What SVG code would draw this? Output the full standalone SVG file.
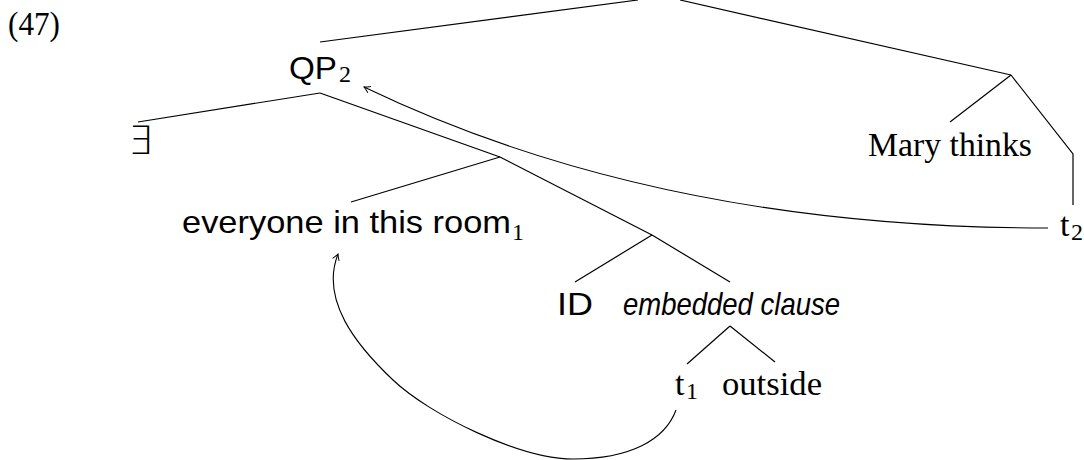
<svg xmlns="http://www.w3.org/2000/svg" width="1084" height="460" viewBox="0 0 1084 460">
<style>
.serif{font-family:"Liberation Serif","Times New Roman",serif;font-size:34px;fill:#000}
.sans{font-family:"Liberation Sans",Arial,sans-serif;font-size:32px;fill:#000}
.sub{font-family:"Liberation Serif","Times New Roman",serif;font-size:24px;fill:#000}
.edge{stroke:#000;stroke-width:1.2;fill:none}
.move{stroke:#000;stroke-width:1.1;fill:none;marker-end:url(#arr)}
</style>
<defs>
<marker id="arr" markerWidth="12" markerHeight="12" refX="0" refY="0" viewBox="-8 -6 12 12" orient="auto" markerUnits="userSpaceOnUse">
<path d="M -6 -3.5 Q -2 -0.8 0 0 Q -2 0.8 -6 3.5" fill="none" stroke="#000" stroke-width="1"/>
</marker>
</defs>
<rect width="1084" height="460" fill="#fff"/>
<g id="label47"><text class="serif" x="8" y="35" font-size="36" textLength="52" lengthAdjust="spacingAndGlyphs">(47)</text></g>
<g id="connectors">
<line class="edge" x1="320" y1="42" x2="638" y2="0"/>
<line class="edge" x1="680" y1="0" x2="1011" y2="75"/>
<line class="edge" x1="1011" y1="75" x2="950" y2="122"/>
<polyline class="edge" points="1011,75 1073,154 1073,205"/>
<line class="edge" x1="320" y1="93" x2="138" y2="122"/>
<line class="edge" x1="320" y1="93" x2="500" y2="157"/>
<line class="edge" x1="500" y1="157" x2="351" y2="202"/>
<line class="edge" x1="500" y1="157" x2="652" y2="235"/>
<line class="edge" x1="652" y1="235" x2="575" y2="282"/>
<line class="edge" x1="652" y1="235" x2="730" y2="282"/>
<line class="edge" x1="730" y1="326" x2="687" y2="364"/>
<line class="edge" x1="730" y1="326" x2="775" y2="362"/>
<path class="move" d="M 1048 228 C 880 228, 620 210, 364 87"/>
<path class="move" d="M 676 410 C 665 440, 630 459, 573 459 C 520 459, 430 415, 393 380 C 356 345, 320 300, 338 254"/>
</g>
<g id="QP2"><text class="sans" x="289" y="79" textLength="48" lengthAdjust="spacingAndGlyphs">QP</text><text class="sub" x="339" y="82">2</text></g>
<g id="exists"><text x="128" y="154" style="font-family:'DejaVu Sans',sans-serif;font-size:39px;font-weight:200">∃</text></g>
<g id="everyone"><text class="sans" x="182" y="233" textLength="329" lengthAdjust="spacingAndGlyphs">everyone in this room</text><text class="sub" x="512" y="240">1</text></g>
<g id="MaryThinks"><text class="serif" x="868" y="156" textLength="164" lengthAdjust="spacingAndGlyphs">Mary thinks</text></g>
<g id="t2"><text class="serif" x="1060" y="236">t</text><text class="sub" x="1071" y="240">2</text></g>
<g id="ID"><text class="sans" x="557" y="315" textLength="36" lengthAdjust="spacingAndGlyphs">ID</text></g>
<g id="embedded"><text class="sans" x="623" y="315" font-style="italic" font-size="30" textLength="217" lengthAdjust="spacingAndGlyphs">embedded clause</text></g>
<g id="t1"><text class="serif" x="675" y="395">t</text><text class="sub" x="686" y="399">1</text></g>
<g id="outside"><text class="serif" x="722" y="395" textLength="100" lengthAdjust="spacingAndGlyphs">outside</text></g>
</svg>
